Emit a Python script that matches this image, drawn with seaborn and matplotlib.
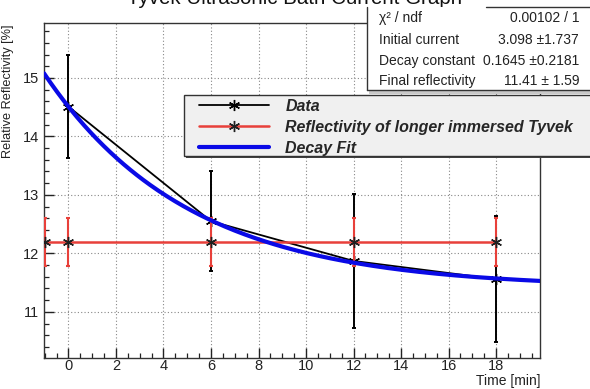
import numpy as np
import pandas as pd
import matplotlib
matplotlib.use("Agg")
import matplotlib.pyplot as plt
from matplotlib.ticker import MultipleLocator
from matplotlib.lines import Line2D
from matplotlib.patches import Rectangle
import seaborn as sns

# ---- data ----
data_time = [0, 6, 12, 18]
data_refl = [14.51, 12.55, 11.87, 11.56]
data_err = [0.88, 0.86, 1.15, 1.08]

ref_time = [-1, 0, 6, 12, 18]
ref_refl = [12.2, 12.2, 12.2, 12.2, 12.2]
ref_err = [0.41, 0.41, 0.41, 0.41, 0.41]

# fit parameters shown in the stats box
fit_initial = 3.098
fit_decay = 0.1645
fit_final = 11.41

title = "Tyvek Ultrasonic Bath Current Graph"
stats_labels = ["χ² / ndf", "Initial current", "Decay constant", "Final reflectivity"]
stats_values = ["0.00102 / 1", "3.098 ±1.737", "0.1645 ±0.2181", "11.41 ± 1.59"]
legend_labels = ["Data", "Reflectivity of longer immersed Tyvek", "Decay Fit"]

xlim = (-1.03, 19.85)
ylim = (10.21, 15.94)

sns.set_style("white")
plt.rcParams['font.family'] = ['Liberation Sans', 'DejaVu Sans']

W, H = 590, 389
fig = plt.figure(figsize=(W / 100, H / 100), dpi=100)
ax = fig.add_axes([44 / W, 1 - 358 / H, 496 / W, 335 / H])

df_data = pd.DataFrame({"t": data_time, "r": data_refl, "e": data_err})
df_ref = pd.DataFrame({"t": ref_time, "r": ref_refl, "e": ref_err})

fit_t = np.linspace(xlim[0], xlim[1], 300)
df_fit = pd.DataFrame({"t": fit_t, "r": fit_final + fit_initial * np.exp(-fit_decay * fit_t)})

star = (6, 2, 0)
RED = "#e8403a"
BLUE = "#0a0ae6"

# Data graph
ax.errorbar(df_data.t, df_data.r, yerr=df_data.e, fmt="none", ecolor="black",
            elinewidth=1.4, capsize=1.5, capthick=1.4, zorder=3)
sns.lineplot(data=df_data, x="t", y="r", ax=ax, color="black", lw=1.3,
             marker=star, markersize=8, markeredgecolor="black", markeredgewidth=1,
             zorder=4, legend=False)

# Reference graph
ax.errorbar(df_ref.t, df_ref.r, yerr=df_ref.e, fmt="none", ecolor=RED,
            elinewidth=1.5, capsize=1.5, capthick=1.5, zorder=5)
sns.lineplot(data=df_ref, x="t", y="r", ax=ax, color=RED, lw=1.8,
             marker=star, markersize=8, markeredgecolor="#202020", markeredgewidth=1,
             zorder=6, legend=False)

# Fit
sns.lineplot(data=df_fit, x="t", y="r", ax=ax, color=BLUE, lw=3.0,
             zorder=7, legend=False)

ax.set_xlim(*xlim)
ax.set_ylim(*ylim)
ax.xaxis.set_major_locator(MultipleLocator(2))
ax.xaxis.set_minor_locator(MultipleLocator(0.5))
ax.yaxis.set_major_locator(MultipleLocator(1))
ax.yaxis.set_minor_locator(MultipleLocator(0.2))
ax.tick_params(which="both", direction="in", top=False, right=False,
               bottom=True, left=True, color="#222222")
ax.tick_params(which="major", length=7.5, width=1.0)
ax.tick_params(which="minor", length=3.8, width=0.9)
ax.tick_params(axis="x", which="major", labelsize=10.5, pad=0.8, labelcolor="#222222")
ax.tick_params(axis="y", which="major", labelsize=10.5, pad=3.5, labelcolor="#222222")
ax.grid(True, which="major", color="#888888", linestyle=(0, (1, 2)), lw=0.8)
for s in ax.spines.values():
    s.set_color("#333333")
    s.set_linewidth(1.0)

ax.set_xlabel("Time [min]", fontsize=10, color="#222222")
ax.xaxis.set_label_coords(1.0, (358 - 381) / 335)
ax.xaxis.label.set_ha("right")
ax.xaxis.label.set_va("center")
ax.set_ylabel("Relative Reflectivity [%]", fontsize=9.2, color="#222222")
ax.yaxis.set_label_coords((8 - 44) / 496, 1.0 - 2 / 335)
ax.yaxis.label.set_ha("right")
ax.yaxis.label.set_va("center")

# Title (mostly above the canvas as in the reference)
fig.text(0.5, 1 - 4 / H, title, ha="center", va="baseline", fontsize=14.8, color="#111111")

# Stats box
bx0, by0, by1 = 367 / W, 1 - 90 / H, 1 - 7 / H
fig.patches.append(Rectangle((bx0 + 2 / W, by0 - 4 / H), 1.0, by1 - by0, transform=fig.transFigure,
                             facecolor="#c8c8c8", edgecolor="none", zorder=20))
fig.patches.append(Rectangle((bx0, by0), 1.0, by1 - by0, transform=fig.transFigure,
                             facecolor="white", edgecolor="none", zorder=21))
for xs, ys in [([bx0, bx0], [by0, by1]), ([bx0, 1.0], [by0, by0]), ([486 / W, 1.0], [by1, by1])]:
    fig.add_artist(Line2D(xs, ys, transform=fig.transFigure, color="#333333", lw=1.0, zorder=22))
rows_y = [18, 40, 61, 81]
for lab, val, yy in zip(stats_labels, stats_values, rows_y):
    fig.text(379 / W, 1 - yy / H, lab, ha="left", va="center", fontsize=10, color="#222222", zorder=23)
    fig.text(579 / W, 1 - yy / H, val, ha="right", va="center", fontsize=10, color="#222222", zorder=23)

# Legend frame
lx0, ly0, ly1 = 184 / W, 1 - 156 / H, 1 - 95 / H
fig.patches.append(Rectangle((lx0 + 2 / W, ly0 - 2 / H), 1.0, ly1 - ly0, transform=fig.transFigure,
                             facecolor="#444444", edgecolor="none", zorder=28))
fig.patches.append(Rectangle((lx0, ly0), 1.0, ly1 - ly0, transform=fig.transFigure,
                             facecolor="#f0f0f0", edgecolor="#333333", lw=1.0, zorder=29))

handles = [
    Line2D([], [], color="black", lw=1.3, marker=star, markersize=8, markeredgecolor="black"),
    Line2D([], [], color=RED, lw=1.8, marker=star, markersize=8, markeredgecolor="#202020"),
    Line2D([], [], color=BLUE, lw=3.0),
]
leg = fig.legend(handles, legend_labels, loc="upper left",
                 bbox_to_anchor=(199 / W, 1 - 99 / H), frameon=False,
                 borderaxespad=0, borderpad=0, handlelength=4.4, handletextpad=1.0,
                 labelspacing=0.36,
                 prop={"family": "Liberation Sans", "weight": "bold", "style": "italic", "size": 11.5})
leg.set_zorder(30)

fig.savefig("out.png", dpi=100)
